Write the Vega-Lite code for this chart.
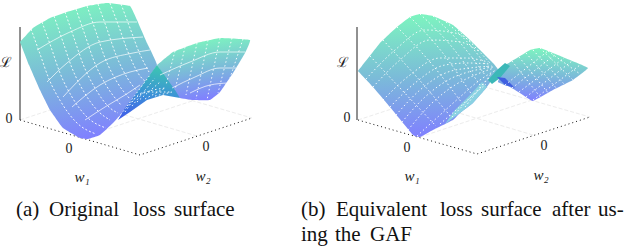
{
"$schema":"https://vega.github.io/schema/vega-lite/v6.json",
"width":626,"height":248,"padding":0,"autosize":{"type":"fit","contains":"padding"},
"background":"white","view":{"stroke":null},
"datasets":{
"surface":[
{"id":"aL","x":20,"y":42},{"id":"aL","x":33,"y":28},{"id":"aL","x":50,"y":18},{"id":"aL","x":67,"y":12},{"id":"aL","x":87,"y":6},{"id":"aL","x":107,"y":3},{"id":"aL","x":130,"y":6},{"id":"aL","x":137,"y":20},{"id":"aL","x":147,"y":43},{"id":"aL","x":157,"y":65},{"id":"aL","x":140,"y":88},{"id":"aL","x":125,"y":110},{"id":"aL","x":113,"y":123},{"id":"aL","x":100,"y":135},{"id":"aL","x":88,"y":139},{"id":"aL","x":80,"y":138},{"id":"aL","x":63,"y":128},{"id":"aL","x":50,"y":110},{"id":"aL","x":40,"y":90},{"id":"aL","x":29,"y":65},{"id":"aL","x":20,"y":42},
{"id":"aR","x":157,"y":65},{"id":"aR","x":173,"y":52},{"id":"aR","x":197,"y":43},{"id":"aR","x":220,"y":38},{"id":"aR","x":250,"y":40},{"id":"aR","x":245,"y":53},{"id":"aR","x":233,"y":73},{"id":"aR","x":220,"y":92},{"id":"aR","x":210,"y":100},{"id":"aR","x":193,"y":100},{"id":"aR","x":180,"y":98},{"id":"aR","x":173,"y":90},{"id":"aR","x":157,"y":65},
{"id":"aF","x":157,"y":65},{"id":"aF","x":165,"y":76},{"id":"aF","x":175,"y":90},{"id":"aF","x":180,"y":98},{"id":"aF","x":163,"y":95},{"id":"aF","x":147,"y":100},{"id":"aF","x":130,"y":112},{"id":"aF","x":118,"y":120},{"id":"aF","x":125,"y":108},{"id":"aF","x":140,"y":88},{"id":"aF","x":157,"y":65},
{"id":"bL","x":358,"y":71},{"id":"bL","x":380,"y":43},{"id":"bL","x":397,"y":27},{"id":"bL","x":410,"y":17},{"id":"bL","x":420,"y":14},{"id":"bL","x":433,"y":16},{"id":"bL","x":453,"y":25},{"id":"bL","x":470,"y":40},{"id":"bL","x":480,"y":50},{"id":"bL","x":493,"y":63},{"id":"bL","x":498,"y":70},{"id":"bL","x":487,"y":87},{"id":"bL","x":473,"y":103},{"id":"bL","x":460,"y":113},{"id":"bL","x":453,"y":120},{"id":"bL","x":433,"y":130},{"id":"bL","x":420,"y":137},{"id":"bL","x":413,"y":135},{"id":"bL","x":390,"y":107},{"id":"bL","x":373,"y":87},{"id":"bL","x":358,"y":71},
{"id":"bS","x":487,"y":87},{"id":"bS","x":473,"y":103},{"id":"bS","x":460,"y":113},{"id":"bS","x":445,"y":124},{"id":"bS","x":455,"y":110},{"id":"bS","x":470,"y":95},{"id":"bS","x":482,"y":82},{"id":"bS","x":487,"y":87},
{"id":"bR","x":505,"y":65},{"id":"bR","x":517,"y":58},{"id":"bR","x":530,"y":50},{"id":"bR","x":540,"y":48},{"id":"bR","x":553,"y":53},{"id":"bR","x":570,"y":60},{"id":"bR","x":588,"y":68},{"id":"bR","x":573,"y":80},{"id":"bR","x":553,"y":90},{"id":"bR","x":533,"y":101},{"id":"bR","x":523,"y":95},{"id":"bR","x":510,"y":87},{"id":"bR","x":498,"y":82},{"id":"bR","x":505,"y":65},
{"id":"bT","x":488,"y":80},{"id":"bT","x":497,"y":70},{"id":"bT","x":505,"y":63},{"id":"bT","x":510,"y":66},{"id":"bT","x":500,"y":78},{"id":"bT","x":492,"y":84},{"id":"bT","x":488,"y":80},
{"id":"bB","x":497,"y":77},{"id":"bB","x":505,"y":78},{"id":"bB","x":515,"y":88},{"id":"bB","x":505,"y":85},{"id":"bB","x":497,"y":77}
],
"dots":[
{"id":"1","x":31,"y":29},{"id":"1","x":40,"y":54},{"id":"1","x":49,"y":79},{"id":"1","x":61,"y":102},{"id":"1","x":76,"y":122},{"id":"1","x":96,"y":134},
{"id":"2","x":42,"y":22},{"id":"2","x":51,"y":47},{"id":"2","x":60,"y":73},{"id":"2","x":72,"y":97},{"id":"2","x":87,"y":117},{"id":"2","x":106,"y":128},
{"id":"3","x":54,"y":16},{"id":"3","x":63,"y":42},{"id":"3","x":72,"y":68},{"id":"3","x":84,"y":92},{"id":"3","x":99,"y":112},{"id":"3","x":110,"y":120},
{"id":"4","x":65,"y":12},{"id":"4","x":74,"y":38},{"id":"4","x":83,"y":64},{"id":"4","x":95,"y":88},{"id":"4","x":110,"y":108},{"id":"4","x":118,"y":113},
{"id":"5","x":76,"y":9},{"id":"5","x":85,"y":35},{"id":"5","x":94,"y":61},{"id":"5","x":106,"y":85},{"id":"5","x":121,"y":105},
{"id":"6","x":87,"y":6},{"id":"6","x":96,"y":32},{"id":"6","x":105,"y":58},{"id":"6","x":117,"y":82},{"id":"6","x":130,"y":99},
{"id":"7","x":98,"y":4},{"id":"7","x":107,"y":29},{"id":"7","x":116,"y":55},{"id":"7","x":128,"y":79},{"id":"7","x":137,"y":91},
{"id":"8","x":110,"y":3},{"id":"8","x":119,"y":27},{"id":"8","x":128,"y":52},{"id":"8","x":140,"y":76},{"id":"8","x":146,"y":82},
{"id":"9","x":121,"y":4},{"id":"9","x":130,"y":28},{"id":"9","x":139,"y":52},{"id":"9","x":149,"y":72},
{"id":"r1","x":175,"y":51},{"id":"r1","x":166,"y":85},
{"id":"r2","x":185,"y":47},{"id":"r2","x":175,"y":90},
{"id":"r3","x":197,"y":43},{"id":"r3","x":186,"y":95},
{"id":"r4","x":208,"y":40},{"id":"r4","x":196,"y":99},
{"id":"r5","x":220,"y":38},{"id":"r5","x":207,"y":100},
{"id":"r6","x":232,"y":38},{"id":"r6","x":218,"y":93},
{"id":"r7","x":243,"y":39},{"id":"r7","x":230,"y":78},
{"id":"A1","x":370,"y":56},{"id":"A1","x":400,"y":88},{"id":"A1","x":436,"y":126},
{"id":"A2","x":383,"y":40},{"id":"A2","x":415,"y":75},{"id":"A2","x":452,"y":118},
{"id":"A3","x":397,"y":27},{"id":"A3","x":430,"y":62},{"id":"A3","x":462,"y":103},
{"id":"A4","x":410,"y":17},{"id":"A4","x":442,"y":52},{"id":"A4","x":472,"y":95},
{"id":"A5","x":420,"y":14},{"id":"A5","x":452,"y":47},{"id":"A5","x":480,"y":85},
{"id":"A6","x":433,"y":16},{"id":"A6","x":462,"y":45},{"id":"A6","x":485,"y":75},
{"id":"A7","x":446,"y":22},{"id":"A7","x":470,"y":45},{"id":"A7","x":488,"y":68},
{"id":"A8","x":458,"y":30},{"id":"A8","x":476,"y":48},{"id":"A8","x":490,"y":63},
{"id":"B1","x":366,"y":79},{"id":"B1","x":395,"y":50},{"id":"B1","x":425,"y":30},{"id":"B1","x":455,"y":33},{"id":"B1","x":475,"y":45},
{"id":"B2","x":373,"y":87},{"id":"B2","x":400,"y":60},{"id":"B2","x":430,"y":40},{"id":"B2","x":460,"y":42},{"id":"B2","x":480,"y":52},
{"id":"B3","x":383,"y":100},{"id":"B3","x":410,"y":75},{"id":"B3","x":440,"y":58},{"id":"B3","x":465,"y":58},{"id":"B3","x":488,"y":62},
{"id":"B4","x":390,"y":107},{"id":"B4","x":415,"y":83},{"id":"B4","x":445,"y":65},{"id":"B4","x":468,"y":63},{"id":"B4","x":490,"y":64},
{"id":"B5","x":396,"y":115},{"id":"B5","x":420,"y":90},{"id":"B5","x":448,"y":72},{"id":"B5","x":470,"y":68},{"id":"B5","x":492,"y":66},
{"id":"B6","x":402,"y":122},{"id":"B6","x":425,"y":97},{"id":"B6","x":452,"y":78},{"id":"B6","x":472,"y":71},{"id":"B6","x":493,"y":67},
{"id":"B7","x":408,"y":130},{"id":"B7","x":430,"y":105},{"id":"B7","x":455,"y":85},{"id":"B7","x":475,"y":75},{"id":"B7","x":494,"y":68},
{"id":"B8","x":417,"y":136},{"id":"B8","x":440,"y":115},{"id":"B8","x":460,"y":97},{"id":"B8","x":480,"y":80},{"id":"B8","x":496,"y":70},
{"id":"E1","x":440,"y":124},{"id":"E1","x":486,"y":84},
{"id":"E2","x":452,"y":117},{"id":"E2","x":489,"y":78},
{"id":"E3","x":465,"y":107},{"id":"E3","x":491,"y":74},
{"id":"C1","x":505,"y":85},{"id":"C1","x":548,"y":51},
{"id":"C2","x":512,"y":88},{"id":"C2","x":556,"y":54},
{"id":"C3","x":519,"y":92},{"id":"C3","x":564,"y":58},
{"id":"C4","x":526,"y":97},{"id":"C4","x":572,"y":61},
{"id":"C5","x":533,"y":100},{"id":"C5","x":580,"y":65},
{"id":"D1","x":512,"y":61},{"id":"D1","x":541,"y":98},
{"id":"D2","x":519,"y":57},{"id":"D2","x":549,"y":94},
{"id":"D3","x":526,"y":53},{"id":"D3","x":557,"y":89},
{"id":"D4","x":533,"y":50},{"id":"D4","x":565,"y":85},
{"id":"D5","x":540,"y":48},{"id":"D5","x":573,"y":80},
{"id":"D6","x":548,"y":51},{"id":"D6","x":580,"y":74},
{"id":"F1","x":127,"y":106},{"id":"F1","x":150,"y":75},
{"id":"F2","x":132,"y":106},{"id":"F2","x":155,"y":78},
{"id":"F3","x":137,"y":102},{"id":"F3","x":160,"y":82},
{"id":"F4","x":145,"y":99},{"id":"F4","x":165,"y":88},
{"id":"F5","x":155,"y":96},{"id":"F5","x":172,"y":92},
{"id":"F6","x":118,"y":118},{"id":"F6","x":140,"y":95},{"id":"F6","x":165,"y":88},
{"id":"F7","x":125,"y":112},{"id":"F7","x":145,"y":92},{"id":"F7","x":170,"y":92}
],
"arcs":[
{"id":"a","x":37,"y":50},{"id":"a","x":70,"y":32},{"id":"a","x":100,"y":22},{"id":"a","x":137,"y":22},
{"id":"b","x":47,"y":82},{"id":"b","x":67,"y":63},{"id":"b","x":100,"y":42},{"id":"b","x":143,"y":37},
{"id":"c","x":63,"y":97},{"id":"c","x":100,"y":63},{"id":"c","x":133,"y":53},{"id":"c","x":150,"y":50},
{"id":"d","x":72,"y":107},{"id":"d","x":100,"y":85},{"id":"d","x":130,"y":72},{"id":"d","x":148,"y":68},
{"id":"e","x":85,"y":120},{"id":"e","x":105,"y":107},{"id":"e","x":125,"y":95},{"id":"e","x":140,"y":85},
{"id":"f","x":160,"y":75},{"id":"f","x":190,"y":62},{"id":"f","x":220,"y":52},{"id":"f","x":245,"y":52},
{"id":"g","x":172,"y":88},{"id":"g","x":195,"y":77},{"id":"g","x":220,"y":68},{"id":"g","x":236,"y":68},
{"id":"h","x":190,"y":93},{"id":"h","x":210,"y":85},{"id":"h","x":228,"y":83}
],
"frameSolid":[
{"id":"a","x":20,"y":27},{"id":"a","x":20,"y":120},
{"id":"b","x":357,"y":27},{"id":"b","x":357,"y":120}
],
"frameDotted":[
{"id":"a","x":20,"y":120},{"id":"a","x":140,"y":155},{"id":"a","x":252,"y":118},
{"id":"b","x":358,"y":120},{"id":"b","x":477,"y":154},{"id":"b","x":590,"y":117}
],
"frameGrey":[
{"id":"a1","x":20,"y":120},{"id":"a1","x":132,"y":83},{"id":"a1","x":252,"y":118},
{"id":"a2","x":80,"y":138},{"id":"a2","x":192,"y":101},
{"id":"a3","x":197,"y":136},{"id":"a3","x":77,"y":101},
{"id":"b1","x":358,"y":120},{"id":"b1","x":471,"y":83},{"id":"b1","x":590,"y":117},
{"id":"b2","x":420,"y":137},{"id":"b2","x":532,"y":100},
{"id":"b3","x":533,"y":135},{"id":"b3","x":415,"y":100}
],
"script":[
{"t":"ℒ","x":6,"y":63},{"t":"ℒ","x":343,"y":63}
],
"math":[
{"t":"w₁","x":82,"y":177},{"t":"w₂","x":203,"y":176},
{"t":"w₁","x":412,"y":176},{"t":"w₂","x":541,"y":175}
],
"zeros":[
{"t":"0","x":9,"y":119},{"t":"0","x":69,"y":149},{"t":"0","x":206,"y":147},
{"t":"0","x":347,"y":118},{"t":"0","x":407,"y":148},{"t":"0","x":544,"y":146}
],
"captions":[
{"t":"(a)","x":16,"y":210},{"t":"Original","x":49,"y":210},{"t":"loss","x":133,"y":210},{"t":"surface","x":174,"y":210},
{"t":"(b)","x":301,"y":210},{"t":"Equivalent","x":336,"y":210},{"t":"loss","x":440,"y":210},{"t":"surface","x":481,"y":210},{"t":"after","x":552,"y":210},{"t":"us-","x":598,"y":210},
{"t":"ing","x":301,"y":235},{"t":"the","x":335,"y":235},{"t":"GAF","x":370,"y":235}
]
},
"encoding":{
"x":{"field":"x","type":"quantitative","scale":{"domain":[0,626]},"axis":null},
"y":{"field":"y","type":"quantitative","scale":{"domain":[248,0]},"axis":null}
},
"layer":[
{"data":{"name":"frameGrey"},"mark":{"type":"line","stroke":"#ececec","strokeWidth":1,"strokeDash":[4,2]},"encoding":{"detail":{"field":"id"},"order":{"value":null}}},
{"data":{"name":"frameDotted"},"mark":{"type":"line","stroke":"#111111","strokeWidth":1,"strokeDash":[1,3]},"encoding":{"detail":{"field":"id"},"order":{"value":null}}},
{"data":{"name":"frameSolid"},"mark":{"type":"line","stroke":"#222222","strokeWidth":1},"encoding":{"detail":{"field":"id"},"order":{"value":null}}},
{"data":{"name":"surface"},"transform":[{"filter":"datum.id==='aL'"}],"mark":{"type":"line","strokeWidth":0,"interpolate":"cardinal","tension":0.75,"fill":{"gradient":"linear","x1":0.3,"y1":0,"x2":0.48,"y2":1,"stops":[{"offset":0,"color":"#7df5bf"},{"offset":0.5,"color":"#7bbcd8"},{"offset":1,"color":"#8080ff"}]}},"encoding":{"order":{"value":null}}},
{"data":{"name":"arcs"},"transform":[{"filter":"indexof('abcde',datum.id)>=0"}],"mark":{"type":"line","stroke":"white","strokeWidth":0.8,"opacity":0.85,"interpolate":"monotone"},"encoding":{"detail":{"field":"id"},"order":{"value":null}}},
{"data":{"name":"dots"},"transform":[{"filter":"length(datum.id)===1"}],"mark":{"type":"line","stroke":"white","strokeWidth":0.9,"strokeDash":[2,2],"interpolate":"monotone"},"encoding":{"detail":{"field":"id"},"order":{"value":null}}},
{"data":{"name":"surface"},"transform":[{"filter":"datum.id==='aR'"}],"mark":{"type":"line","strokeWidth":0,"interpolate":"cardinal","tension":0.75,"fill":{"gradient":"linear","x1":0.25,"y1":0.05,"x2":0.45,"y2":1,"stops":[{"offset":0,"color":"#7df5bf"},{"offset":0.5,"color":"#7bbcd8"},{"offset":1,"color":"#8080ff"}]}},"encoding":{"order":{"value":null}}},
{"data":{"name":"surface"},"transform":[{"filter":"datum.id==='aF'"}],"mark":{"type":"line","strokeWidth":0,"fill":{"gradient":"linear","x1":0.6,"y1":0,"x2":0.45,"y2":1,"stops":[{"offset":0,"color":"#3cc8b0"},{"offset":0.55,"color":"#3c90d8"},{"offset":1,"color":"#4060e8"}]}},"encoding":{"order":{"value":null}}},
{"data":{"name":"arcs"},"transform":[{"filter":"indexof('fgh',datum.id)>=0"}],"mark":{"type":"line","stroke":"white","strokeWidth":0.8,"opacity":0.85,"interpolate":"monotone"},"encoding":{"detail":{"field":"id"},"order":{"value":null}}},
{"data":{"name":"surface"},"transform":[{"filter":"datum.id==='bL'"}],"mark":{"type":"line","strokeWidth":0,"interpolate":"cardinal","tension":0.75,"fill":{"gradient":"linear","x1":0.4,"y1":0,"x2":0.45,"y2":1,"stops":[{"offset":0,"color":"#7df5bf"},{"offset":0.5,"color":"#7bbcd8"},{"offset":1,"color":"#8080ff"}]}},"encoding":{"order":{"value":null}}},
{"data":{"name":"surface"},"transform":[{"filter":"datum.id==='bS'"}],"mark":{"type":"line","strokeWidth":0,"fill":"#8ad2e2"},"encoding":{"order":{"value":null}}},
{"data":{"name":"surface"},"transform":[{"filter":"datum.id==='bR'"}],"mark":{"type":"line","strokeWidth":0,"interpolate":"cardinal","tension":0.75,"fill":{"gradient":"linear","x1":0.5,"y1":0,"x2":0.42,"y2":1,"stops":[{"offset":0,"color":"#7df5bf"},{"offset":0.5,"color":"#7bbcd8"},{"offset":1,"color":"#8080ff"}]}},"encoding":{"order":{"value":null}}},
{"data":{"name":"surface"},"transform":[{"filter":"datum.id==='bT'"}],"mark":{"type":"line","strokeWidth":0,"fill":"#3cb8b8"},"encoding":{"order":{"value":null}}},
{"data":{"name":"surface"},"transform":[{"filter":"datum.id==='bB'"}],"mark":{"type":"line","strokeWidth":0,"fill":"#4060e0"},"encoding":{"order":{"value":null}}},
{"data":{"name":"dots"},"transform":[{"filter":"length(datum.id)===2"}],"mark":{"type":"line","stroke":"white","strokeWidth":0.9,"strokeDash":[1.5,2.5],"interpolate":"monotone"},"encoding":{"detail":{"field":"id"},"order":{"value":null}}},
{"data":{"name":"script"},"mark":{"type":"text","font":"DejaVu Serif","fontSize":14,"color":"#222222"},"encoding":{"text":{"field":"t"}}},
{"data":{"name":"math"},"mark":{"type":"text","font":"Liberation Serif","fontStyle":"italic","fontSize":15,"color":"#222222"},"encoding":{"text":{"field":"t"}}},
{"data":{"name":"zeros"},"mark":{"type":"text","font":"Liberation Serif","fontSize":14,"color":"#222222"},"encoding":{"text":{"field":"t"}}},
{"data":{"name":"captions"},"mark":{"type":"text","font":"Liberation Serif","fontSize":21,"align":"left","color":"#111111"},"encoding":{"text":{"field":"t"}}}
]
}
